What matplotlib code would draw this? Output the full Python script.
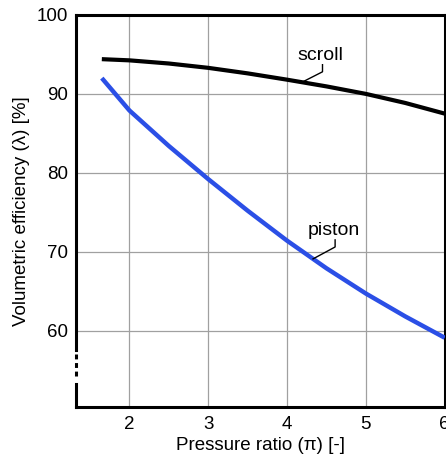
import matplotlib
matplotlib.use("Agg")
import matplotlib.pyplot as plt
import numpy as np

plt.rcParams['font.family'] = ['Liberation Sans', 'DejaVu Sans']

# values
pressure_ratio = [1.65, 2.0, 2.5, 3.0, 3.5, 4.0, 4.5, 5.0, 5.5, 6.0]
scroll = [94.4, 94.25, 93.85, 93.3, 92.6, 91.8, 90.95, 90.0, 88.85, 87.5]
piston = [92.0, 87.9, 83.4, 79.2, 75.2, 71.4, 67.9, 64.7, 61.8, 59.1]
x_ticks = [2, 3, 4, 5, 6]
y_ticks = [60, 70, 80, 90, 100]

fig = plt.figure(figsize=(4.46, 4.68), dpi=100)
ax = fig.add_axes([0.170, 0.130, 0.827, 0.838])

ax.plot(pressure_ratio, scroll, color='black', lw=3.0, solid_capstyle='butt', zorder=3)
ax.plot(pressure_ratio, piston, color='#2b4fe6', lw=3.2, solid_capstyle='butt', zorder=3)

ax.set_xlim(1.32, 6.0)
ax.set_ylim(50.3, 100)
ax.set_xticks(x_ticks)
ax.set_yticks(y_ticks)
ax.grid(True, color='#a0a0a0', lw=0.9)
ax.set_axisbelow(True)
ax.tick_params(length=0, labelsize=13.5)
ax.tick_params(axis='x', pad=6.5)
ax.tick_params(axis='y', pad=5.5)

for side in ['top', 'right', 'bottom']:
    ax.spines[side].set_linewidth(2.2)
ax.spines['left'].set_visible(False)

# broken left axis
tr = ax.get_yaxis_transform()
ax.plot([0, 0], [57.5, 100], color='black', lw=2.2, transform=tr, clip_on=False, zorder=5)
ax.plot([0, 0], [50.3, 53.2], color='black', lw=2.2, transform=tr, clip_on=False, zorder=5)
ax.plot([0, 0], [54.3, 57.5], color='black', lw=2.2, transform=tr, clip_on=False,
        dashes=(1.6, 1.2), zorder=5)

ax.set_xlabel('Pressure ratio (π) [-]', fontsize=13.5, labelpad=3)
ax.set_ylabel('Volumetric efficiency (λ) [%]', fontsize=13.5, labelpad=5)

# leader labels
x0 = 4.19
ax.plot([x0, 4.45, 4.45], [np.interp(x0, pressure_ratio, scroll), 92.8, 93.7],
        color='black', lw=1.0, zorder=4)
ax.text(4.42, 94.9, 'scroll', fontsize=14, ha='center', va='center')

x1 = 4.33
ax.plot([x1, 4.61, 4.61], [np.interp(x1, pressure_ratio, piston), 70.6, 71.5],
        color='black', lw=1.0, zorder=4)
ax.text(4.595, 72.7, 'piston', fontsize=14, ha='center', va='center')

fig.savefig('out.png', dpi=100)
